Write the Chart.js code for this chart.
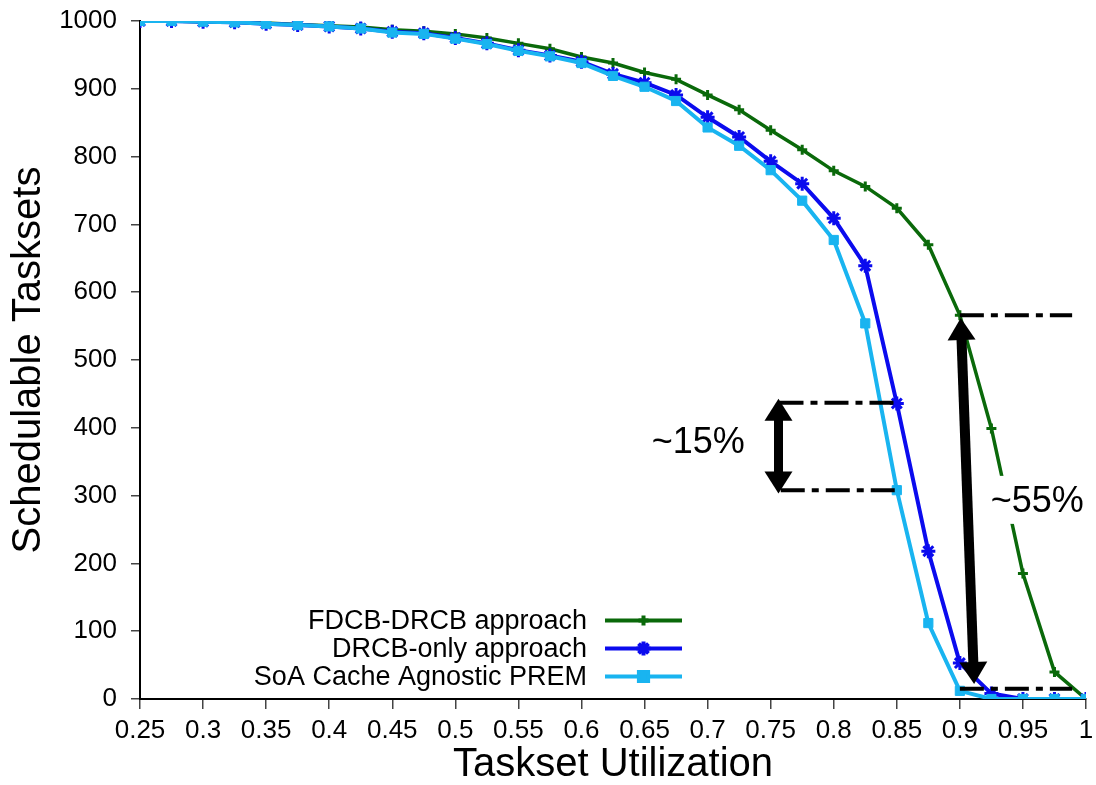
<!DOCTYPE html>
<html>
<head>
<meta charset="utf-8">
<script src="https://cdn.jsdelivr.net/npm/chart.js@4.4.1/dist/chart.umd.min.js"></script>
<style>
  html, body { margin: 0; padding: 0; background: #fff; }
  canvas { display: block; }
</style>
</head>
<body>
<canvas id="chart" width="1096" height="785"></canvas>
<script>
// Taskset utilization sampled every 0.025
const utilization = [0.25, 0.275, 0.3, 0.325, 0.35, 0.375, 0.4, 0.425, 0.45, 0.475,
                     0.5, 0.525, 0.55, 0.575, 0.6, 0.625, 0.65, 0.675, 0.7, 0.725,
                     0.75, 0.775, 0.8, 0.825, 0.85, 0.875, 0.9, 0.925, 0.95, 0.975, 1.0];

// Number of schedulable tasksets (out of 1000) per approach
const fdcbDrcb = [1000, 1000, 999, 998, 997, 995, 993, 991, 987, 985,
                  981, 975, 967, 959, 947, 938, 924, 914, 891, 869,
                  839, 810, 779, 756, 724, 670, 566, 399, 185, 40, 0];
const drcbOnly = [1000, 1000, 999, 998, 996, 994, 992, 989, 984, 982,
                  975, 967, 957, 949, 940, 922, 909, 891, 858, 829,
                  793, 760, 709, 639, 436, 218, 53, 8, 0, 0, 0];
const soaPrem  = [1000, 1000, 999, 998, 996, 994, 992, 989, 983, 981,
                  974, 966, 956, 948, 938, 919, 903, 882, 843, 816,
                  780, 735, 677, 554, 308, 112, 12, 0, 0, 0, 0];

const seriesLabels = ['FDCB-DRCB approach', 'DRCB-only approach', 'SoA Cache Agnostic PREM'];

// Axis ticks
const xTickValues = [0.25, 0.3, 0.35, 0.4, 0.45, 0.5, 0.55, 0.6, 0.65, 0.7, 0.75, 0.8, 0.85, 0.9, 0.95, 1];
const xTickLabels = ['0.25', '0.3', '0.35', '0.4', '0.45', '0.5', '0.55', '0.6', '0.65', '0.7', '0.75', '0.8', '0.85', '0.9', '0.95', '1'];
const yTickValues = [0, 100, 200, 300, 400, 500, 600, 700, 800, 900, 1000];
const yTickLabels = ['0', '100', '200', '300', '400', '500', '600', '700', '800', '900', '1000'];

// Gap callouts (data units): dash-dot guides, double arrows and their labels
const guideLines = [
  { x0: 0.757, x1: 0.851, y: 437 },
  { x0: 0.758, x1: 0.851, y: 308 },
  { x0: 0.900, x1: 0.989, y: 566 },
  { x0: 0.900, x1: 0.989, y: 15 }
];
const gapArrows = [
  { x0: 0.7562, y0: 443, x1: 0.7562, y1: 303, shaft: 9 },
  { x0: 0.9007, y0: 562, x1: 0.9113, y1: 22, shaft: 10 }
];
const gapLabels = [
  { text: '~15%', x: 0.6926, y: 363, knockout: false },
  { text: '~55%', x: 0.9613, y: 276, knockout: true }
];

const FONT = "'Liberation Sans', Arial, Helvetica, sans-serif";
const GREEN = '#0a690a';
const BLUE = '#0b0bee';
const CYAN = '#19b4f0';

function pairs(values) {
  return utilization.map((u, i) => ({ x: u, y: values[i] }));
}

function drawDoubleArrow(ctx, ax, ay, bx, by, shaft, headW, headL) {
  const dx = bx - ax, dy = by - ay;
  const len = Math.hypot(dx, dy);
  const ux = dx / len, uy = dy / len;
  const px = -uy, py = ux;
  ctx.save();
  ctx.strokeStyle = '#000';
  ctx.fillStyle = '#000';
  ctx.lineWidth = shaft;
  ctx.lineCap = 'butt';
  ctx.beginPath();
  ctx.moveTo(ax + ux * headL * 0.9, ay + uy * headL * 0.9);
  ctx.lineTo(bx - ux * headL * 0.9, by - uy * headL * 0.9);
  ctx.stroke();
  const head = (tx, ty, sx, sy) => {
    const baseX = tx + sx * headL, baseY = ty + sy * headL;
    ctx.beginPath();
    ctx.moveTo(tx, ty);
    ctx.lineTo(baseX + px * headW / 2, baseY + py * headW / 2);
    ctx.lineTo(baseX - px * headW / 2, baseY - py * headW / 2);
    ctx.closePath();
    ctx.fill();
  };
  head(ax, ay, ux, uy);
  head(bx, by, -ux, -uy);
  ctx.restore();
}

const calloutPlugin = {
  id: 'gapCallouts',
  afterDatasetsDraw(chart) {
    const { ctx, scales: { x, y } } = chart;
    ctx.save();
    // dash-dot guides
    ctx.strokeStyle = '#000';
    ctx.lineWidth = 4;
    ctx.setLineDash([24, 7, 7, 7]);
    guideLines.forEach(g => {
      ctx.beginPath();
      ctx.moveTo(x.getPixelForValue(g.x0), y.getPixelForValue(g.y));
      ctx.lineTo(x.getPixelForValue(g.x1), y.getPixelForValue(g.y));
      ctx.stroke();
    });
    ctx.setLineDash([]);
    // labels
    ctx.font = '36px ' + FONT;
    ctx.textAlign = 'center';
    ctx.textBaseline = 'alphabetic';
    gapLabels.forEach(l => {
      const px = x.getPixelForValue(l.x), py = y.getPixelForValue(l.y);
      if (l.knockout) {
        const w = ctx.measureText(l.text).width;
        ctx.fillStyle = '#fff';
        ctx.fillRect(px - w / 2 - 4, py - 36, w + 8, 48);
      }
      ctx.fillStyle = '#000';
      ctx.fillText(l.text, px, py);
    });
    ctx.restore();
    // arrows
    gapArrows.forEach(a => {
      drawDoubleArrow(ctx,
        x.getPixelForValue(a.x0), y.getPixelForValue(a.y0),
        x.getPixelForValue(a.x1), y.getPixelForValue(a.y1),
        a.shaft, 28, 22);
    });
  }
};

function drawMarker(ctx, ds, cx, cy) {
  ctx.save();
  ctx.strokeStyle = ds.borderColor;
  ctx.fillStyle = ds.pointBackgroundColor || ds.borderColor;
  if (Chart.helpers && Chart.helpers.drawPoint) {
    Chart.helpers.drawPoint(ctx, {
      pointStyle: ds.pointStyle, rotation: 0,
      radius: ds.pointRadius, borderWidth: ds.pointBorderWidth
    }, cx, cy);
  } else {
    ctx.beginPath();
    ctx.arc(cx, cy, ds.pointRadius, 0, Math.PI * 2);
    ctx.fill();
  }
  ctx.restore();
}

const legendPlugin = {
  id: 'insetLegend',
  afterDraw(chart) {
    const { ctx } = chart;
    const textRight = 587, lineX0 = 605, lineX1 = 682, rowY0 = 620.5, rowStep = 28;
    ctx.save();
    ctx.font = '27px ' + FONT;
    ctx.textAlign = 'right';
    ctx.textBaseline = 'middle';
    chart.data.datasets.forEach((ds, i) => {
      const yy = rowY0 + i * rowStep;
      ctx.fillStyle = '#000';
      ctx.fillText(ds.label, textRight, yy + 1);
      ctx.strokeStyle = ds.borderColor;
      ctx.lineWidth = 4;
      ctx.beginPath();
      ctx.moveTo(lineX0, yy);
      ctx.lineTo(lineX1, yy);
      ctx.stroke();
      drawMarker(ctx, ds, (lineX0 + lineX1) / 2, yy);
    });
    ctx.restore();
  }
};

const tickGrid = (len) => ({
  display: true,
  drawOnChartArea: false,
  drawTicks: true,
  tickLength: len,
  color: '#444',
  lineWidth: 1.5
});

new Chart(document.getElementById('chart').getContext('2d'), {
  type: 'line',
  data: {
    datasets: [
      {
        label: seriesLabels[0], data: pairs(fdcbDrcb),
        borderColor: GREEN, backgroundColor: GREEN, pointBackgroundColor: GREEN,
        borderWidth: 3.5, pointStyle: 'cross', pointRadius: 5, pointBorderWidth: 3,
        order: 2
      },
      {
        label: seriesLabels[1], data: pairs(drcbOnly),
        borderColor: BLUE, backgroundColor: BLUE, pointBackgroundColor: BLUE,
        borderWidth: 4, pointStyle: 'star', pointRadius: 7, pointBorderWidth: 3,
        order: 1
      },
      {
        label: seriesLabels[2], data: pairs(soaPrem),
        borderColor: CYAN, backgroundColor: CYAN, pointBackgroundColor: CYAN,
        borderWidth: 4, pointStyle: 'rect', pointRadius: 6.5, pointBorderWidth: 1,
        order: 0
      }
    ]
  },
  options: {
    responsive: false,
    animation: false,
    devicePixelRatio: 1,
    layout: { padding: { top: 21, right: 0, bottom: 0, left: 0 } },
    elements: { line: { tension: 0 } },
    plugins: { legend: { display: false }, tooltip: { enabled: false } },
    scales: {
      x: {
        type: 'linear', min: 0.25, max: 1,
        afterBuildTicks: s => { s.ticks = xTickValues.map(v => ({ value: v })); },
        afterFit: s => { s.height = 86; s.paddingLeft = 0; s.paddingRight = 3; },
        ticks: {
          autoSkip: false, maxRotation: 0, padding: 6, color: '#000',
          font: { family: FONT, size: 26 },
          callback: (v, i) => xTickLabels[i]
        },
        grid: tickGrid(10),
        border: { display: true, color: '#000', width: 2 },
        title: {
          display: true, text: 'Taskset Utilization', color: '#000',
          font: { family: FONT, size: 40, lineHeight: 1 },
          padding: { top: 0, bottom: 0 }
        }
      },
      y: {
        type: 'linear', min: 0, max: 1000,
        afterBuildTicks: s => { s.ticks = yTickValues.map(v => ({ value: v })); },
        afterFit: s => { s.width = 140; s.paddingTop = 0; s.paddingBottom = 0; },
        ticks: {
          padding: 14, color: '#000',
          font: { family: FONT, size: 26 },
          callback: (v, i) => yTickLabels[i]
        },
        grid: tickGrid(9),
        border: { display: true, color: '#000', width: 2 },
        title: {
          display: true, text: 'Schedulable Tasksets', color: '#000',
          font: { family: FONT, size: 40, lineHeight: 1.2 },
          padding: { top: 5, bottom: 0 }
        }
      }
    }
  },
  plugins: [calloutPlugin, legendPlugin]
});
</script>
</body>
</html>
